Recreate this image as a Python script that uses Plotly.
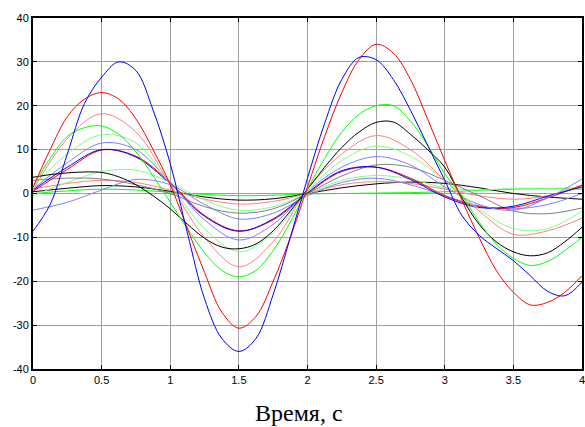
import plotly.graph_objects as go

# time axis, s
t = [0, 0.25, 0.5, 0.75, 1.0, 1.25, 1.5, 1.75, 2.0, 2.25, 2.5, 2.75, 3.0, 3.25, 3.5, 3.75, 4.0]
# finer time axis for the large curves
t2 = [0, 0.125, 0.25, 0.375, 0.5, 0.625, 0.75, 0.875, 1.0, 1.125, 1.25, 1.375, 1.5, 1.625, 1.75, 1.875,
      2.0, 2.125, 2.25, 2.375, 2.5, 2.625, 2.75, 2.875, 3.0, 3.125, 3.25, 3.375, 3.5, 3.625, 3.75, 3.875, 4.0]

# large curves, read at t2
blue_big = [-8.6, -2.5, 9, 20.5, 26.5, 30, 28, 19, 6.8, -9, -24, -33, -36, -33, -23, -10,
            3.5, 16, 26, 31, 30.5, 26, 19, 11, 3, -5, -9.5, -12.5, -15.3, -18.8, -22.3, -23.3, -20.2]
red_big = [1.4, 10, 17.5, 21.5, 23, 21.5, 17, 10, 2, -8, -18, -27, -30.7, -28, -20, -10,
           1.5, 13, 23, 30.5, 34, 32, 26, 17, 7.5, -1.5, -10, -17.5, -22.5, -25.4, -24.8, -22.5, -18.7]
green_big = [1.5, 8, 13, 15, 15.4, 13.5, 9.5, 4, -2, -8, -13.5, -17.5, -19, -17.5, -13, -6.5,
             1, 8, 14, 18, 20, 20, 16.5, 11, 4.5, -0.5, -6.5, -11.5, -14.8, -16.4, -15.5, -13, -10]
black_big = [3.7, 4.3, 4.7, 4.9, 4.8, 3.8, 2, -0.5, -3.5, -7, -10.2, -12.2, -12.6, -11.5, -8.5, -4,
             1, 6, 10.5, 14, 16.2, 16.3, 13.5, 10, 6, -1, -7, -11, -13.3, -14.2, -13.5, -11, -7.7]

# smaller curves, read at t
lred_big = [0.7, 12.5, 18.2, 14, 2, -10, -16.7, -11, 1, 9, 13.2, 10, 3, -4, -9.3, -8.5, -5.6]
lgreen_big = [1.5, 9, 13.4, 11.5, 2, -8, -13.3, -9, 0.5, 7.5, 10.8, 8.5, 3, -3.5, -8, -8, -4]
lblue_big = [1, 7, 11.5, 10, 2.5, -6, -10.6, -7, 0.5, 6, 8.4, 6.5, 1.5, -2.5, -3.8, -1, 3.3]
red_mid = [0.5, 5.5, 9.9, 8.5, 2.5, -5, -8.5, -6, 0, 5, 6, 3.5, -0.5, -3, -3.2, -1, 1.9]
blue_mid = [0.8, 6, 10, 8.3, 2.2, -5.2, -8.6, -5.8, 0.2, 5.2, 6, 3.2, -0.8, -3.2, -2.9, -0.6, 1.5]
gray_mid = [3, 3.5, 3.3, 2, 0, -3, -4.5, -3.5, 0, 4, 6.5, 6, 3, -0.5, -4, -4.6, -3.3]
black_small = [0.4, 1.2, 1.8, 1.5, 0.5, -0.8, -1.5, -1.2, 0, 1.3, 2.2, 2.6, 2.3, 1.3, 0, -0.8, -1.3]
green_small = [0, 0.6, 1, 0.8, 0.3, -0.2, -0.5, -0.4, -0.1, 0, 0.1, 0.2, 0.4, 0.7, 1, 1.1, 1]
lred_small = [1, 2.3, 3, 2.5, 0.8, -1.3, -2.4, -1.8, 0, 2, 2.7, 2.3, 1, -0.5, -1.3, -0.5, 1.9]
lblue_small = [-3.8, -2, 0.8, 3.2, 2, -2.5, -5.8, -4.5, -0.5, 2.5, 3.5, 2, -0.5, -2.8, -3.5, -2.5, 0]
lgreen_small = [-0.5, 2.5, 5, 5.3, 2.5, -1.5, -3.8, -3, 0, 3, 4.1, 3.3, 1.3, 0.8, 1.2, 1.2, 1.3]

series = [
    (t, green_small, '#00ff00'),
    (t, black_small, '#000000'),
    (t, lred_small, '#ff8080'),
    (t, lgreen_small, '#80ff80'),
    (t, lblue_small, '#8080ff'),
    (t, gray_mid, '#808080'),
    (t, red_mid, '#ff0000'),
    (t, blue_mid, '#0000ff'),
    (t, lblue_big, '#8080ff'),
    (t, lgreen_big, '#80ff80'),
    (t, lred_big, '#ff8080'),
    (t2, black_big, '#000000'),
    (t2, green_big, '#00ff00'),
    (t2, red_big, '#ff0000'),
    (t2, blue_big, '#0000ff'),
]

fig = go.Figure()
for xs, ys, col in series:
    fig.add_trace(go.Scatter(x=xs, y=ys, mode='lines', line=dict(color=col, width=1, shape='spline'),
                             showlegend=False, hoverinfo='skip'))

axis_common = dict(showline=True, linecolor='black', linewidth=2, mirror='ticks',
                   ticks='inside', ticklen=4, tickcolor='black', automargin=False,
                   ticklabeloverflow='allow',
                   showgrid=True, gridcolor='#a0a0a0', gridwidth=1, zeroline=False,
                   tickfont=dict(family='Liberation Sans, Arial', size=11, color='black'))

fig.update_xaxes(range=[0, 4], tickmode='array', tickvals=[0, 0.5, 1, 1.5, 2, 2.5, 3, 3.5, 4],
                 ticktext=['0', '0.5', '1', '1.5', '2', '2.5', '3', '3.5', '4'], **axis_common)
fig.update_yaxes(range=[-40, 40], tickmode='array', tickvals=[-40, -30, -20, -10, 0, 10, 20, 30, 40],
                 ticktext=['-40', '-30', '-20', '-10', '0', '10', '20', '30', '40'], **axis_common)

fig.add_annotation(text='Время, с', xref='paper', yref='paper', x=0.485, y=-0.125,
                   xanchor='center', yanchor='middle', showarrow=False,
                   font=dict(family='Liberation Serif, Times New Roman', size=24, color='black'))

fig.update_layout(width=585, height=427, margin=dict(l=33, r=3, t=18, b=58),
                  plot_bgcolor='white', paper_bgcolor='white')

# page body has a default 8px margin; remove it so the figure sits at the window corner
fig.write_html("out.html", config={'displayModeBar': False},
               post_script="document.body.style.margin='0';document.body.style.overflow='hidden';")
